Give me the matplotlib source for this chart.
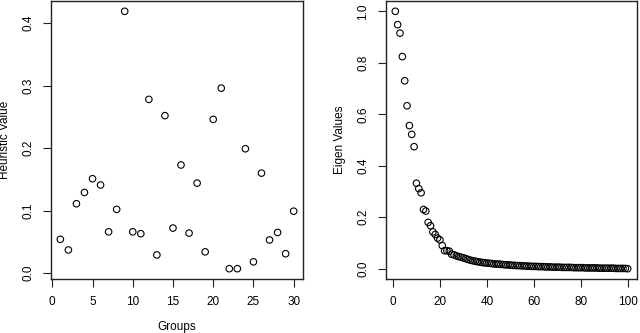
import matplotlib
matplotlib.use("Agg")
import matplotlib.pyplot as plt

plt.rcParams['font.family'] = ['Liberation Sans', 'DejaVu Sans']

# heuristic value per group
groups = list(range(1, 31))
heuristic = [0.054, 0.037, 0.111, 0.129, 0.151, 0.141, 0.066, 0.102, 0.419, 0.066,
             0.063, 0.278, 0.029, 0.252, 0.072, 0.173, 0.064, 0.144, 0.034, 0.246,
             0.296, 0.007, 0.007, 0.199, 0.018, 0.160, 0.053, 0.065, 0.031, 0.099]

# eigen values, 100 of them
eigen_idx = list(range(1, 101))
eigen = [1.000, 0.948, 0.915, 0.824, 0.730, 0.633, 0.556, 0.522, 0.474, 0.332,
         0.311, 0.295, 0.230, 0.224, 0.180, 0.167, 0.143, 0.133, 0.119, 0.112,
         0.090, 0.070, 0.070, 0.068, 0.056, 0.054, 0.050, 0.047, 0.045, 0.042,
         0.039, 0.036, 0.033, 0.031, 0.029, 0.027, 0.026, 0.024, 0.023, 0.022,
         0.021, 0.020, 0.019, 0.018, 0.018, 0.017, 0.016, 0.015, 0.015, 0.014,
         0.013, 0.013, 0.012, 0.012, 0.011, 0.011, 0.010, 0.010, 0.009, 0.009,
         0.009, 0.008, 0.008, 0.008, 0.007, 0.007, 0.007, 0.006, 0.006, 0.006,
         0.006, 0.005, 0.005, 0.005, 0.005, 0.005, 0.004, 0.004, 0.004, 0.004,
         0.004, 0.003, 0.003, 0.003, 0.003, 0.003, 0.003, 0.002, 0.002, 0.002,
         0.002, 0.002, 0.002, 0.002, 0.001, 0.001, 0.001, 0.001, 0.001, 0.000]

fig = plt.figure(figsize=(6.4, 3.33), dpi=100)
ax1 = fig.add_axes([51 / 640, 54 / 333, 252 / 640, 278 / 333])
ax2 = fig.add_axes([386 / 640, 54 / 333, 251 / 640, 278 / 333])


def r_style(ax):
    for s in ax.spines.values():
        s.set_linewidth(1.0)
        s.set_color('#222222')
    ax.tick_params(direction='out', length=5.5, width=0.8, color='#222222',
                   labelsize=8.5, pad=6.5)
    for lab in ax.get_yticklabels():
        lab.set_rotation(90)
        lab.set_va('center')


ax1.scatter(groups, heuristic, s=22, facecolors='none', edgecolors='black', linewidths=0.8)
ax1.set_xlim(-0.16, 31.16)
ax1.set_ylim(-0.0095, 0.4355)
ax1.set_xticks([0, 5, 10, 15, 20, 25, 30])
ax1.set_yticks([0.0, 0.1, 0.2, 0.3, 0.4])
ax1.set_yticklabels(['0.0', '0.1', '0.2', '0.3', '0.4'])
ax1.set_xlabel('Groups', fontsize=8.5, va='center')
ax1.xaxis.set_label_coords(0.5, -(327 - 279) / 278)
ax1.set_ylabel('Heuristic Value', fontsize=8.5, va='center')
ax1.yaxis.set_label_coords(-(51 - 5) / 252, 0.5)
r_style(ax1)

ax2.scatter(eigen_idx, eigen, s=22, facecolors='none', edgecolors='black', linewidths=0.8)
ax2.set_xlim(-2.96, 103.96)
ax2.set_ylim(-0.04, 1.04)
ax2.set_xticks([0, 20, 40, 60, 80, 100])
ax2.set_yticks([0.0, 0.2, 0.4, 0.6, 0.8, 1.0])
ax2.set_yticklabels(['0.0', '0.2', '0.4', '0.6', '0.8', '1.0'])
ax2.set_ylabel('Eigen Values', fontsize=8.5, va='center')
ax2.yaxis.set_label_coords(-(386 - 340) / 251, 0.5)
r_style(ax2)

fig.savefig('out.png', dpi=100)
